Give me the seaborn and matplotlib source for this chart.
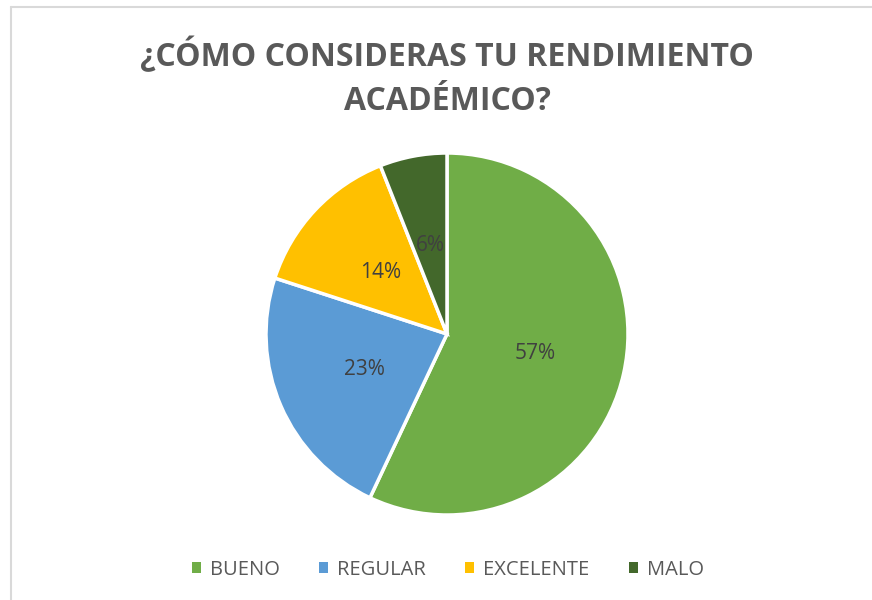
import matplotlib
matplotlib.use("Agg")
import matplotlib.pyplot as plt
from matplotlib.patches import Patch
from matplotlib.lines import Line2D
import seaborn as sns

categories = ["BUENO", "REGULAR", "EXCELENTE", "MALO"]
values = [57, 23, 14, 6]
colors = ["#70AD47", "#5B9BD5", "#FFC000", "#43682B"]
title = "¿CÓMO CONSIDERAS TU RENDIMIENTO\nACADÉMICO?"

sns.set_theme(style="white")
plt.rcParams['font.family'] = ['Open Sans', 'DejaVu Sans']

W, H = 872, 600
fig = plt.figure(figsize=(W / 100, H / 100), dpi=100)
fig.patch.set_facecolor("white")

# chart frame (top and left edges visible)
fig.add_artist(Line2D([11 / W, 11 / W], [0, 1 - 7 / H], color="#D9D9D9", lw=1.5, transform=fig.transFigure))
fig.add_artist(Line2D([11 / W, 1], [1 - 7 / H, 1 - 7 / H], color="#D9D9D9", lw=1.5, transform=fig.transFigure))

cx, cy, r = 447, 334, 181
ax = fig.add_axes([(cx - r) / W, (H - cy - r) / H, 2 * r / W, 2 * r / H])
wedges, texts, autotexts = ax.pie(
    values, colors=colors, startangle=90, counterclock=False,
    autopct="%1.0f%%", pctdistance=0.5,
    wedgeprops=dict(edgecolor="white", linewidth=2.5),
    textprops=dict(color="#404040", fontsize=15),
)
ax.set_xlim(-1, 1)
ax.set_ylim(-1, 1)
ax.set_aspect("equal")
ax.axis("off")

fig.text(447 / W, 1 - 78 / H, title, ha="center", va="center", fontsize=23,
         fontweight="bold", color="#595959", linespacing=1.42)

handles = [Patch(facecolor=c, edgecolor="none") for c in colors]
fig.legend(handles, categories, loc="center", bbox_to_anchor=(448 / W, 1 - 570 / H),
           ncol=4, frameon=False, fontsize=14.5, handlelength=0.45, handleheight=0.45,
           handletextpad=0.45, columnspacing=1.95, labelcolor="#595959")

fig.savefig("out.png", dpi=100)
